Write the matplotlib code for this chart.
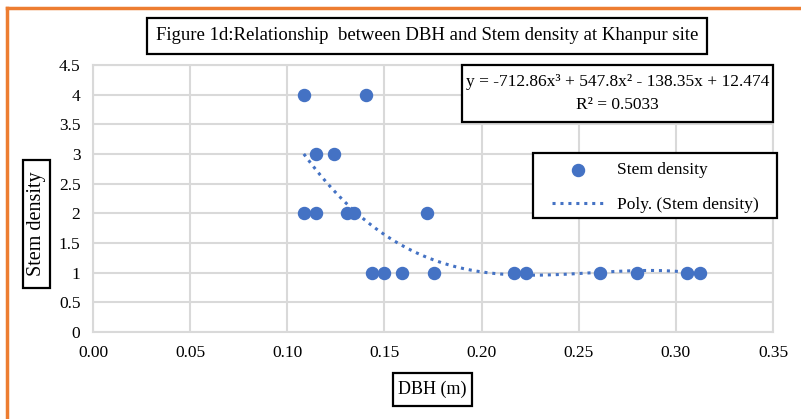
import numpy as np
import matplotlib
matplotlib.use('Agg')
import matplotlib.pyplot as plt
from matplotlib.lines import Line2D
from matplotlib.patches import Rectangle

# data
dbh = [0.1085, 0.1403, 0.1147, 0.124, 0.1085, 0.1147, 0.1305, 0.1343, 0.172,
       0.1435, 0.1497, 0.159, 0.1756, 0.2167, 0.2231, 0.2608, 0.2802, 0.3057, 0.3126]
stem_density = [4, 4, 3, 3, 2, 2, 2, 2, 2,
                1, 1, 1, 1, 1, 1, 1, 1, 1, 1]
# Excel trendline coefficients shown in the chart (cubic, highest first)
poly_coef = [-712.86, 547.8, -138.35, 12.474]
r_squared = 0.5033

x_ticks = [0.00, 0.05, 0.10, 0.15, 0.20, 0.25, 0.30, 0.35]
y_ticks = [0, 0.5, 1, 1.5, 2, 2.5, 3, 3.5, 4, 4.5]

blue = '#4472C4'
W, H = 801, 419
plt.rcParams['font.family'] = ['Liberation Serif', 'DejaVu Serif']

fig = plt.figure(figsize=(W / 100, H / 100), dpi=100)
ax = fig.add_axes([0.1161, 0.2076, 0.849, 0.6373])

ax.scatter(dbh, stem_density, s=75, color=blue, zorder=3, label='Stem density')

xs = np.linspace(min(dbh), max(dbh), 200)
ax.plot(xs, np.polyval(poly_coef, xs), ls=(0, (1, 1.6)), lw=2.2, color=blue,
        zorder=2, label='Poly. (Stem density)')

ax.set_xlim(0, 0.35)
ax.set_ylim(0, 4.5)
ax.set_xticks(x_ticks)
ax.set_xticklabels(['%.2f' % t for t in x_ticks])
ax.set_yticks(y_ticks)
ax.set_yticklabels(['%g' % t for t in y_ticks])
ax.tick_params(length=0, labelsize=12.5, pad=9)
ax.grid(True, color='#d9d9d9', lw=1.5)
ax.set_axisbelow(True)
for s in ax.spines.values():
    s.set_color('#d9d9d9')
    s.set_linewidth(1.5)


def px_box(x0, y0, x1, y1):
    # black framed white box given in pixel coords (top-left origin)
    r = Rectangle((x0 / W, 1 - y1 / H), (x1 - x0) / W, (y1 - y0) / H,
                  transform=fig.transFigure, fc='white', ec='black', lw=1.6,
                  zorder=5)
    fig.add_artist(r)
    return ((x0 + x1) / 2 / W, 1 - (y0 + y1) / 2 / H)


cx, cy = px_box(147, 18, 707, 54)
fig.text(cx, cy, 'Figure 1d:Relationship  between DBH and Stem density at Khanpur site',
         ha='center', va='center', fontsize=13.5, zorder=6)

cx, cy = px_box(23, 160, 50, 288)
fig.text(cx, cy, 'Stem density', rotation=90, ha='center', va='center',
         fontsize=14.5, zorder=6)

cx, cy = px_box(393, 373, 472, 406)
fig.text(cx, cy, 'DBH (m)', ha='center', va='center', fontsize=13, zorder=6)

cx, cy = px_box(462, 65, 773, 122)
eq = 'y = -712.86x³ + 547.8x² - 138.35x + 12.474\nR² = %.4f' % r_squared
fig.text(cx, cy, eq, ha='center', va='center', fontsize=12.5,
         linespacing=1.6, zorder=6)

px_box(533, 153, 777, 218)
handles, labels = ax.get_legend_handles_labels()
leg = fig.legend(handles, labels, loc='upper left',
                 bbox_to_anchor=(552 / W, 1 - 162 / H), fontsize=12.5,
                 frameon=False, handlelength=3.0, handletextpad=0.75,
                 borderpad=0, borderaxespad=0, labelspacing=1.1)
leg.set_zorder(7)

# orange frame around the figure (top and left edges visible)
fig.add_artist(Line2D([7 / W, 1.0], [1 - 8 / H, 1 - 8 / H], color='#ED7D31', lw=2.5,
                      transform=fig.transFigure))
fig.add_artist(Line2D([7 / W, 7 / W], [0.0, 1 - 8 / H], color='#ED7D31', lw=2.5,
                      transform=fig.transFigure))

fig.savefig('out.png', dpi=100)
